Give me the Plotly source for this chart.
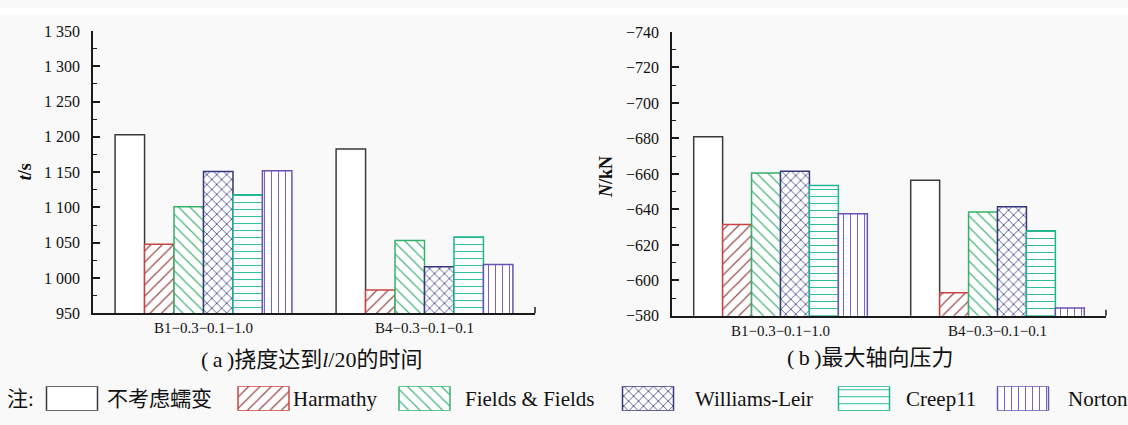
import plotly.graph_objects as go

# ---------------- data ----------------
categories = ["B1\u22120.3\u22120.1\u22121.0", "B4\u22120.3\u22120.1\u22120.1"]
series_names = ["不考虑蠕变", "Harmathy", "Fields & Fields", "Williams-Leir", "Creep11", "Norton"]

# (a) time to reach l/20 deflection, s
t_no_creep = [1203, 1183]
t_harmathy = [1048, 983]
t_fields = [1101, 1053]
t_williams = [1151, 1016]
t_creep11 = [1118, 1058]
t_norton = [1152, 1019]

# (b) maximum axial compressive force, kN
n_no_creep = [-681, -656.5]
n_harmathy = [-631.5, -593]
n_fields = [-660.5, -638.5]
n_williams = [-661.5, -641.5]
n_creep11 = [-653.5, -628]
n_norton = [-637.5, -584.5]

t_ticks = [950, 1000, 1050, 1100, 1150, 1200, 1250, 1300, 1350]
t_ticktext = ["950", "1 000", "1 050", "1 100", "1 150", "1 200", "1 250", "1 300", "1 350"]
n_ticks = [-740, -720, -700, -680, -660, -640, -620, -600, -580]
n_ticktext = ["\u2212740", "\u2212720", "\u2212700", "\u2212680", "\u2212660", "\u2212640", "\u2212620", "\u2212600", "\u2212580"]

# ---------------- styles ----------------
W, H = 1128, 425
SERIF = "Liberation Serif, Times New Roman, serif"
MIXED = "Liberation Serif, Noto Sans CJK SC, serif"
BG = "#f9f9f9"

line_colors = ["#3a3a3a", "#c84444", "#35b068", "#36367c", "#1fb48e", "#6a52b4"]
pat_colors = ["#3a3a3a", "#9a4a48", "#44b476", "#3e3e88", "#2ebd9c", "#7a62c0"]
pat_shapes = ["", "/", "\\", "x", "-", "|"]
pat_sizes = [8, 8, 8, 7, 7, 7]
pat_solidity = [0.15, 0.15, 0.15, 0.22, 0.15, 0.15]

t_series = [t_no_creep, t_harmathy, t_fields, t_williams, t_creep11, t_norton]
n_series = [n_no_creep, n_harmathy, n_fields, n_williams, n_creep11, n_norton]


def px_x(p):
    return p / W


def px_y(p):
    return (H - p) / H


fig = go.Figure()


def bar_kwargs(i):
    return dict(
        marker=dict(
            color="white",
            line=dict(color=line_colors[i], width=1.5),
            pattern=dict(shape=pat_shapes[i], fgcolor=pat_colors[i], bgcolor="white",
                         size=pat_sizes[i], solidity=pat_solidity[i], fillmode="replace"),
        ),
        showlegend=False,
        name=series_names[i],
    )


for i, vals in enumerate(t_series):
    fig.add_trace(go.Bar(x=categories, y=vals, xaxis="x", yaxis="y", **bar_kwargs(i)))
for i, vals in enumerate(n_series):
    fig.add_trace(go.Bar(x=categories, y=vals, xaxis="x2", yaxis="y2", **bar_kwargs(i)))

# ---------------- custom legend (swatches on a hidden axis) ----------------
legend_box_centers = [72, 263.5, 424.5, 648, 864, 1023]
legend_box_width = 51
legend_text_x = [105, 291, 463, 693, 904, 1066]
for i in range(len(series_names)):
    fig.add_trace(go.Bar(x=[legend_box_centers[i]], y=[1], width=[legend_box_width],
                         xaxis="x3", yaxis="y3", hoverinfo="skip", **bar_kwargs(i)))

axis_common = dict(showline=True, linecolor="#1a1a1a", linewidth=1.5, mirror=False,
                   showgrid=False, zeroline=False)

fig.update_layout(
    width=W, height=H,
    margin=dict(l=0, r=0, t=0, b=0),
    paper_bgcolor=BG, plot_bgcolor=BG,
    barmode="group", bargap=0.2, bargroupgap=0,
    font=dict(family=SERIF, size=15, color="#111"),
    xaxis=dict(domain=[px_x(93), px_x(535)], anchor="y", range=[-0.5, 1.5],
               ticks="", tickfont=dict(family=SERIF, size=15, color="#111"), **axis_common),
    yaxis=dict(domain=[px_y(318), px_y(24)], anchor="x", range=[950, 1350],
               tickvals=t_ticks, ticktext=t_ticktext, ticks="inside", ticklen=7, tickwidth=1.5,
               tickcolor="#1a1a1a", ticklabelstandoff=8,
               minor=dict(ticks="inside", ticklen=4, dtick=25, tickcolor="#1a1a1a", tickwidth=1.2),
               tickfont=dict(family=SERIF, size=16, color="#111"), **axis_common),
    xaxis2=dict(domain=[px_x(672), px_x(1106)], anchor="y2", range=[-0.5, 1.5],
                ticks="", tickfont=dict(family=SERIF, size=15, color="#111"), **axis_common),
    yaxis2=dict(domain=[px_y(320.7), px_y(25)], anchor="x2", range=[-580, -740],
                tickvals=n_ticks, ticktext=n_ticktext, ticks="inside", ticklen=7, tickwidth=1.5,
                tickcolor="#1a1a1a", ticklabelstandoff=8,
                minor=dict(ticks="inside", ticklen=4, dtick=10, tickcolor="#1a1a1a", tickwidth=1.2),
                tickfont=dict(family=SERIF, size=16, color="#111"), **axis_common),
    xaxis3=dict(domain=[0, 1], anchor="y3", range=[0, W], visible=False, fixedrange=True),
    yaxis3=dict(domain=[px_y(419.5), px_y(394)], anchor="x3", range=[0, 1], visible=False,
                fixedrange=True),
)

annotations = [
    dict(text="<b><i>t</i>/s</b>", x=px_x(25), y=px_y(171), textangle=-90,
         font=dict(family=SERIF, size=18, color="#111")),
    dict(text="<b><i>N</i>/kN</b>", x=px_x(606), y=px_y(176), textangle=-90,
         font=dict(family=SERIF, size=18, color="#111")),
    dict(text="(\u2009a\u2009)挠度达到<i>l</i>/20的时间", x=px_x(311), y=px_y(366),
         font=dict(family=MIXED, size=22, color="#111")),
    dict(text="(\u2009b\u2009)最大轴向压力", x=px_x(870), y=px_y(364),
         font=dict(family=MIXED, size=22, color="#111")),
    dict(text="注:", x=px_x(5), y=px_y(407), xanchor="left",
         font=dict(family=MIXED, size=21, color="#111")),
]
for i, name in enumerate(series_names):
    annotations.append(dict(text=name, x=px_x(legend_text_x[i]), y=px_y(407), xanchor="left",
                            font=dict(family=MIXED, size=21, color="#111")))
for a in annotations:
    a.update(xref="paper", yref="paper", showarrow=False, yanchor="middle")
    a.setdefault("xanchor", "center")
fig.update_layout(annotations=annotations)

# white strip along the top edge, as in the source image
fig.add_shape(type="rect", xref="paper", yref="paper", x0=0, x1=1, y0=px_y(7), y1=1,
              fillcolor="white", line=dict(width=0), layer="below")
# small end ticks at the right end of each x axis
fig.add_shape(type="line", xref="x domain", yref="y domain", x0=1, x1=1, y0=0, y1=0.022,
              line=dict(color="#1a1a1a", width=1.5))
fig.add_shape(type="line", xref="x2 domain", yref="y2 domain", x0=1, x1=1, y0=0, y1=0.022,
              line=dict(color="#1a1a1a", width=1.5))

# remove the page's default body margin so the figure fills the window exactly
fig.write_html("out.html", config={"displayModeBar": False},
               post_script="document.body.style.margin='0';document.body.style.overflow='hidden';")
